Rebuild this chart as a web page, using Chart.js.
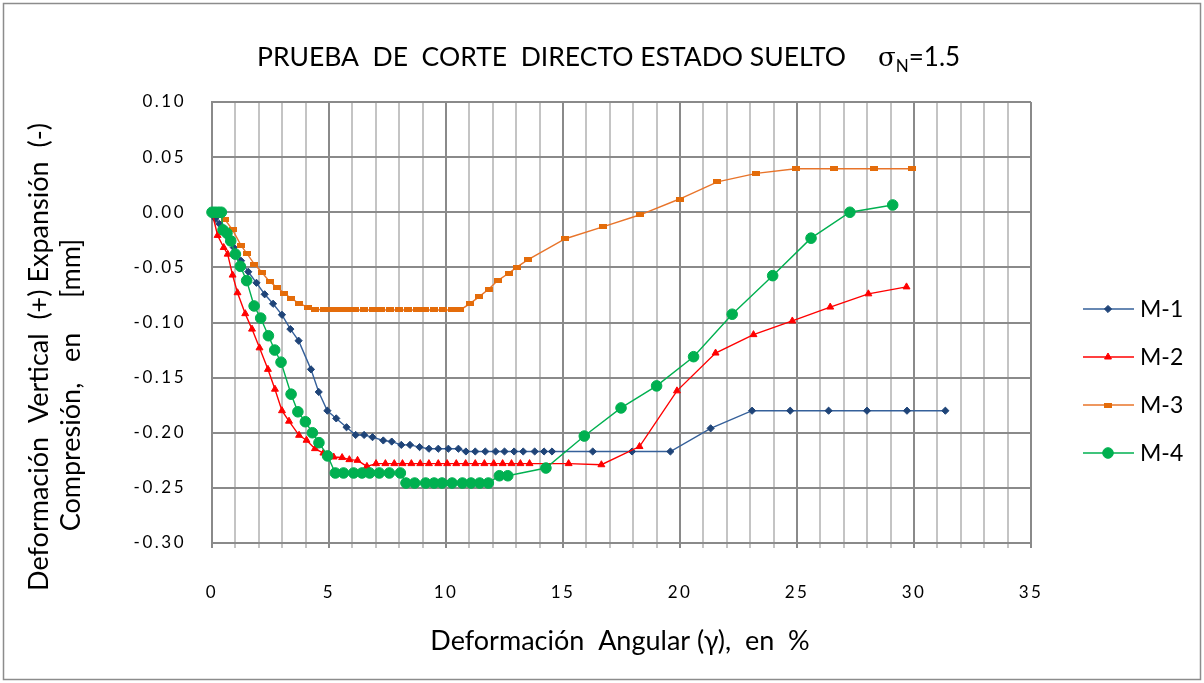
<!DOCTYPE html>
<html>
<head>
<meta charset="utf-8">
<title>Prueba de corte directo - estado suelto</title>
<script src="https://cdn.jsdelivr.net/npm/chart.js@4"></script>
<style>
    html, body { margin: 0; padding: 0; background: #fff; }
    #wrap { width: 1204px; height: 683px; position: relative; }
</style>
</head>
<body>
<div id="wrap"><canvas id="corteChart" width="1204" height="683"></canvas></div>
<script>
// Deformación angular (%) y deformación vertical (mm) de cada muestra
const m1X = [0, 0.14, 0.31, 0.62, 0.93, 1.24, 1.55, 1.9, 2.25, 2.61, 2.99, 3.35, 3.7, 4.23, 4.56, 4.93, 5.31, 5.75, 6.14, 6.5, 6.86, 7.32, 7.68, 8.09, 8.46, 8.87, 9.27, 9.67, 10.1, 10.53, 10.85, 11.25, 11.68, 12.12, 12.5, 12.91, 13.3, 13.79, 14.19, 14.53, 16.27, 17.95, 19.59, 21.31, 23.08, 24.71, 26.35, 27.99, 29.7, 31.34];
const m1Y = [0, -0.006, -0.0105, -0.021, -0.032, -0.044, -0.054, -0.064, -0.0744, -0.083, -0.093, -0.106, -0.1165, -0.1425, -0.163, -0.18, -0.187, -0.195, -0.202, -0.202, -0.204, -0.207, -0.208, -0.211, -0.211, -0.213, -0.2145, -0.2145, -0.2145, -0.2145, -0.217, -0.217, -0.217, -0.217, -0.217, -0.217, -0.217, -0.217, -0.217, -0.217, -0.217, -0.217, -0.217, -0.196, -0.18, -0.18, -0.18, -0.18, -0.18, -0.18];

const m2X = [0, 0.24, 0.5, 0.67, 0.88, 1.09, 1.42, 1.71, 2.03, 2.39, 2.69, 2.99, 3.29, 3.72, 4.04, 4.4, 4.76, 5.2, 5.56, 5.87, 6.22, 6.62, 7.01, 7.41, 7.79, 8.14, 8.52, 8.9, 9.27, 9.67, 10.05, 10.44, 10.84, 11.25, 11.64, 12.04, 12.42, 12.8, 13.18, 13.57, 15.24, 16.64, 18.27, 19.87, 21.52, 23.14, 24.8, 26.42, 28.05, 29.68];
const m2Y = [0, -0.021, -0.032, -0.038, -0.057, -0.073, -0.092, -0.106, -0.123, -0.1425, -0.1605, -0.18, -0.1895, -0.2023, -0.2068, -0.2144, -0.2184, -0.222, -0.2225, -0.2244, -0.225, -0.2305, -0.228, -0.228, -0.228, -0.228, -0.228, -0.228, -0.228, -0.228, -0.228, -0.228, -0.228, -0.228, -0.228, -0.228, -0.228, -0.228, -0.228, -0.228, -0.228, -0.229, -0.2125, -0.162, -0.1277, -0.111, -0.0986, -0.086, -0.074, -0.0677];

const m3X = [0, 0.25, 0.56, 0.88, 1.24, 1.5, 1.81, 2.14, 2.46, 2.78, 3.09, 3.38, 3.7, 4.09, 4.41, 4.8, 5.13, 5.45, 5.81, 6.12, 6.51, 6.88, 7.23, 7.62, 8.0, 8.36, 8.76, 9.12, 9.47, 9.87, 10.26, 10.61, 11.04, 11.42, 11.82, 12.21, 12.68, 13.03, 13.49, 15.1, 16.7, 18.3, 19.98, 21.6, 23.26, 24.94, 26.6, 28.3, 29.9];
const m3Y = [0, -0.003, -0.0068, -0.016, -0.03, -0.0377, -0.047, -0.0547, -0.063, -0.068, -0.0735, -0.078, -0.0825, -0.086, -0.088, -0.0886, -0.0886, -0.0886, -0.0886, -0.0886, -0.0886, -0.0886, -0.0886, -0.0886, -0.0886, -0.0886, -0.0886, -0.0886, -0.0886, -0.0886, -0.0886, -0.0886, -0.0826, -0.0765, -0.0698, -0.062, -0.0553, -0.0498, -0.0432, -0.024, -0.0132, -0.0023, 0.012, 0.0275, 0.0353, 0.0395, 0.0395, 0.0395, 0.0395];

const m4X = [0, 0.13, 0.27, 0.4, 0.47, 0.64, 0.8, 1.0, 1.21, 1.48, 1.8, 2.08, 2.41, 2.68, 2.95, 3.38, 3.67, 3.99, 4.29, 4.57, 4.94, 5.27, 5.62, 6.05, 6.41, 6.74, 7.15, 7.58, 8.05, 8.29, 8.66, 9.13, 9.49, 9.83, 10.26, 10.7, 11.07, 11.44, 11.81, 12.28, 12.64, 14.27, 15.91, 17.48, 19.0, 20.58, 22.23, 23.96, 25.6, 27.26, 29.09];
const m4Y = [0, 0, 0, 0, -0.016, -0.019, -0.026, -0.038, -0.049, -0.062, -0.085, -0.096, -0.112, -0.125, -0.136, -0.165, -0.181, -0.19, -0.2, -0.209, -0.221, -0.2365, -0.2365, -0.2365, -0.2365, -0.2365, -0.2365, -0.2365, -0.2365, -0.2456, -0.2456, -0.2456, -0.2456, -0.2456, -0.2456, -0.2456, -0.2456, -0.2456, -0.2456, -0.239, -0.239, -0.232, -0.203, -0.1775, -0.1575, -0.131, -0.0925, -0.0575, -0.0235, 0.0, 0.0066];

const muestras = ['M-1', 'M-2', 'M-3', 'M-4'];

// marcador rectangular (plano) de la serie M-3
function marcadorRect(w, h, color) {
    const c = document.createElement('canvas');
    c.width = w;
    c.height = h;
    const g = c.getContext('2d');
    g.fillStyle = color;
    g.fillRect(0, 0, w, h);
    return c;
}

function crearSerie(label, xs, ys, linea, punto, estilo, radio, orden) {
    return {
        label: label,
        data: xs.map((x, i) => ({ x: x, y: ys[i] })),
        showLine: true,
        tension: 0,
        borderColor: linea,
        borderWidth: 1.4,
        backgroundColor: punto,
        pointBackgroundColor: punto,
        pointBorderColor: punto,
        pointBorderWidth: 1,
        pointStyle: estilo,
        pointRadius: radio,
        order: orden,
        clip: false
    };
}

const datasets = [
    crearSerie(muestras[0], m1X, m1Y, '#35609A', '#1F4478', 'rectRot', 3.6, 3),
    crearSerie(muestras[1], m2X, m2Y, '#FF0000', '#FF0000', 'triangle', 4, 2),
    crearSerie(muestras[2], m3X, m3Y, '#E8742A', '#E46C0A', marcadorRect(8, 5, '#E46C0A'), 4, 1),
    crearSerie(muestras[3], m4X, m4Y, '#00B050', '#00B050', 'circle', 5.3, 0)
];

// Títulos, leyenda y marco dibujados a mano sobre el canvas
const textosPlugin = {
    id: 'textos',
    beforeDraw(chart) {
        chart.ctx.letterSpacing = '2.5px';
    },
    afterDraw(chart) {
        const ctx = chart.ctx;
        ctx.save();
        ctx.letterSpacing = '0px';
        ctx.fillStyle = '#000';

        // título
        ctx.textAlign = 'left';
        ctx.textBaseline = 'alphabetic';
        ctx.font = '26.5px Lato';
        const base = 66;
        ctx.fillText('PRUEBA  DE  CORTE  DIRECTO ESTADO SUELTO', 257, base);
        let x = 878;
        ctx.font = '26px "DejaVu Serif"';
        ctx.fillText('σ', x, base);
        x += ctx.measureText('σ').width;
        ctx.font = '17px Lato';
        ctx.fillText('N', x, base + 6);
        x += ctx.measureText('N').width;
        ctx.font = '26px Lato';
        ctx.fillText('=1.5', x, base);

        // título eje X
        ctx.textAlign = 'center';
        ctx.font = '27px Lato';
        ctx.fillText('Deformación  Angular (γ),  en  %', 620, 650);

        // título eje Y (dos líneas)
        ctx.save();
        ctx.translate(48, 357);
        ctx.rotate(-Math.PI / 2);
        ctx.fillText('Deformación  Vertical  (+) Expansión  (-)', 0, 0);
        ctx.fillText('Compresión,   en     [mm]', -28, 32);
        ctx.restore();

        // leyenda
        const filas = [309, 357, 405, 453];
        chart.data.datasets.forEach((ds, i) => {
            const y = filas[i];
            ctx.strokeStyle = ds.borderColor;
            ctx.lineWidth = 1.6;
            ctx.beginPath();
            ctx.moveTo(1083, y);
            ctx.lineTo(1134, y);
            ctx.stroke();
            ctx.fillStyle = ds.pointBackgroundColor;
            ctx.strokeStyle = ds.pointBorderColor;
            ctx.lineWidth = 1;
            Chart.helpers.drawPoint(ctx, {
                pointStyle: ds.pointStyle,
                radius: ds.pointRadius,
                rotation: 0,
                borderWidth: 1
            }, 1108, y);
            ctx.fillStyle = '#000';
            ctx.textAlign = 'left';
            ctx.textBaseline = 'middle';
            ctx.font = '23px Lato';
            ctx.fillText(ds.label, 1140, y + 1);
        });

        // marco exterior
        ctx.strokeStyle = '#8c8c8c';
        ctx.lineWidth = 1.5;
        ctx.strokeRect(3.5, 3.5, 1197, 676);
        ctx.restore();
    }
};

const colorGridX = c => (c.tick && Math.round(c.tick.value) % 5 === 0) ? '#8a8a8a' : '#c4c4c4';

new Chart(document.getElementById('corteChart'), {
    type: 'scatter',
    data: { datasets: datasets },
    options: {
        responsive: false,
        animation: false,
        layout: { padding: { top: 102, right: 173, left: 0, bottom: 0 } },
        plugins: {
            legend: { display: false },
            tooltip: { enabled: false },
            title: { display: false }
        },
        scales: {
            x: {
                type: 'linear',
                min: 0,
                max: 35,
                afterFit(scale) { scale.height = 140; },
                ticks: {
                    stepSize: 1,
                    autoSkip: false,
                    maxRotation: 0,
                    padding: 34,
                    color: '#000',
                    font: { family: 'Lato', size: 17 },
                    callback: v => (Math.round(v) % 5 === 0 ? String(v) : '')
                },
                grid: { color: colorGridX, tickColor: colorGridX, lineWidth: 2, tickLength: 5 },
                border: { color: '#8a8a8a', width: 2 }
            },
            y: {
                type: 'linear',
                min: -0.3,
                max: 0.1,
                afterFit(scale) { scale.width = 212; },
                ticks: {
                    stepSize: 0.05,
                    padding: 26,
                    color: '#000',
                    font: { family: 'Lato', size: 17 },
                    callback: v => v.toFixed(2)
                },
                grid: { color: '#8a8a8a', lineWidth: 2, drawTicks: false },
                border: { color: '#8a8a8a', width: 2 }
            }
        }
    },
    plugins: [textosPlugin]
});
</script>
</body>
</html>
